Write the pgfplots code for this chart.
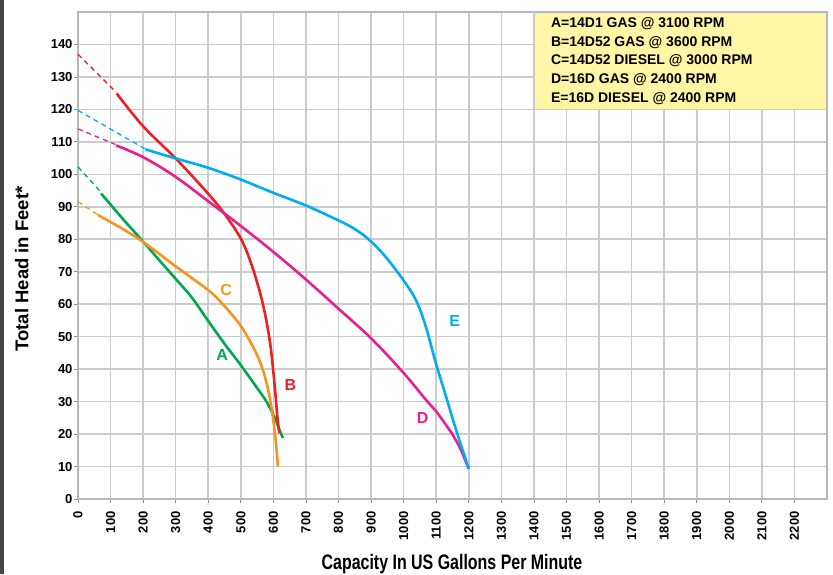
\documentclass[border=0pt]{standalone}
\usepackage{fontspec}
\setmainfont{Liberation Sans}
\newfontfamily\condfont[FakeStretch=0.76]{Liberation Sans}
\usepackage{pgfplots}
\pgfplotsset{compat=1.18}
\definecolor{cA}{RGB}{0,166,81}
\definecolor{cB}{RGB}{237,32,36}
\definecolor{cC}{RGB}{247,148,29}
\definecolor{cD}{RGB}{234,30,140}
\definecolor{cE}{RGB}{0,174,239}
\definecolor{legfill}{RGB}{255,246,165}
\definecolor{gridc}{RGB}{204,204,207}
\begin{document}
\begin{tikzpicture}[x=1pt,y=1pt]
\useasboundingbox (0,0) rectangle (833,574);
\fill[black!72] (0,0) rectangle (3.5,574);
\begin{axis}[
  at={(78pt,75pt)}, anchor=south west,
  scale only axis, width=749pt, height=487pt,
  xmin=0, xmax=2300, ymin=0, ymax=150,
  xtick={0,100,...,2200}, ytick={0,10,...,140},
  grid=major, grid style={gridc, line width=1.6pt},
  axis line style={gridc!90!black, line width=1.6pt},
  tick align=outside, xtick pos=bottom, ytick pos=left,
  major tick length=4pt, tick style={gridc!70!black, line width=0.8pt},
  /pgf/number format/assume math mode=true,
  /pgf/number format/1000 sep={},
  xticklabel style={rotate=90, anchor=east, xshift=-5pt, font=\bfseries\fontsize{13}{13}\selectfont},
  yticklabel style={font=\bfseries\fontsize{13}{13}\selectfont, xshift=2pt},
  clip=false,
]
\fill[legfill] (axis cs:1400,120) rectangle (axis cs:2300,150);
\draw[gridc, line width=1.6pt] (axis cs:1400,120) -- (axis cs:1400,150);
\draw[gridc, line width=1.6pt] (axis cs:1400,120) -- (axis cs:2300,120);
\draw[gridc!90!black, line width=1.6pt] (axis cs:2300,120) -- (axis cs:2300,150) -- (axis cs:1400,150);
\begin{scope}[every node/.style={anchor=base west, inner sep=0pt, font=\bfseries\fontsize{14}{14}\selectfont}]
\node at (axis cs:1452,145.3) {A=14D1 GAS @ 3100 RPM};
\node at (axis cs:1452,139.5) {B=14D52 GAS @ 3600 RPM};
\node at (axis cs:1452,133.7) {C=14D52 DIESEL @ 3000 RPM};
\node at (axis cs:1452,128.0) {D=16D GAS @ 2400 RPM};
\node at (axis cs:1452,122.2) {E=16D DIESEL @ 2400 RPM};
\end{scope}

% dashed extrapolations
\addplot[cA, line width=1.3pt, dash pattern=on 5pt off 4pt] coordinates {(0,102.3) (68,94.8)};
\addplot[cB, line width=1.3pt, dash pattern=on 5pt off 4pt] coordinates {(0,137) (118,125.2)};
\addplot[cC, line width=1.3pt, dash pattern=on 5pt off 4pt] coordinates {(0,91.6) (60,87.6)};
\addplot[cD, line width=1.3pt, dash pattern=on 5pt off 4pt] coordinates {(0,114) (115,109.2)};
\addplot[cE, line width=1.3pt, dash pattern=on 5pt off 4pt] coordinates {(0,119.7) (205,107.9)};

% A
\addplot[cA, line width=2.6pt, smooth, tension=0.6] coordinates {
(71,94.1) (140,86) (200,79.3) (250,73.5) (300,67.8) (350,62) (400,54.8) (450,47.8) (500,41.2) (550,34.2) (580,29.8) (605,24.8) (620,21) (629,18.8)};
% B
\addplot[cB, line width=2.6pt, smooth, tension=0.6] coordinates {
(119,124.9) (200,114.8) (300,104.9) (400,94) (450,87.8) (500,80.2) (530,73) (555,65) (570,59) (582,53) (592,46.5) (600,39) (607,31.5) (613,24.5) (618,20.3)};
% C
\addplot[cC, line width=2.6pt, smooth, tension=0.6] coordinates {
(61,87.5) (130,83.6) (200,79.2) (290,72.4) (360,67.3) (410,63.5) (450,59.4) (495,54) (526,49) (550,44.3) (567,40) (582,34.5) (596,27) (606,19) (614,10)};
% D
\addplot[cD, line width=2.6pt, smooth, tension=0.6] coordinates {
(117,108.9) (200,105.3) (300,99.2) (400,91.7) (500,84.1) (600,76.1) (700,67.6) (800,58.6) (900,49.5) (1000,38.8) (1068,30.6) (1099,27.1) (1150,19.9) (1170,16.4) (1200,9.3)};
% E
\addplot[cE, line width=2.6pt, smooth, tension=0.6] coordinates {
(207,107.7) (300,104.9) (400,102) (500,98.4) (600,94.3) (700,90.4) (800,85.8) (854,82.9) (900,79.3) (946,74.4) (1000,67.3) (1038,61.2) (1068,53.1) (1099,41.8) (1130,31.6) (1161,21.3) (1200,9.3)};

\begin{scope}[every node/.style={inner sep=0pt, font=\bfseries\fontsize{16}{16}\selectfont}]
\node[text=cA] at (axis cs:443,44.4) {A};
\node[text=cB] at (axis cs:652,35.2) {B};
\node[text=cC] at (axis cs:455,64.4) {C};
\node[text=cD] at (axis cs:1058,25) {D};
\node[text=cE] at (axis cs:1157,54.9) {E};
\end{scope}
\end{axis}
\node[rotate=90, font=\bfseries\fontsize{18.5}{18.5}\selectfont, inner sep=0pt] at (21.7,305) {Total Head in Feet*};
\node[anchor=base, font=\condfont\bfseries\fontsize{21}{21}\selectfont, inner sep=0pt] at (452,5) {Capacity In US Gallons Per Minute};
\end{tikzpicture}
\end{document}
